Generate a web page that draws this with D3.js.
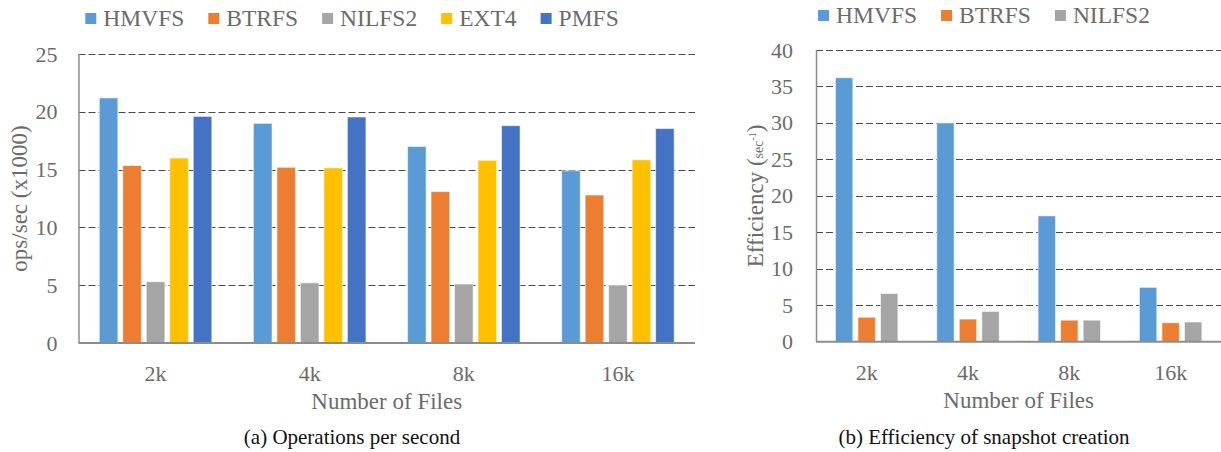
<!DOCTYPE html>
<html>
<head>
<meta charset="utf-8">
<script src="https://cdn.jsdelivr.net/npm/d3@7"></script>
<style>
  html, body { margin: 0; padding: 0; background: #fff; }
  svg { display: block; }
</style>
</head>
<body>
<svg id="fig" width="1221" height="452"></svg>
<script>
// File-count categories shared by both panels
const fileCounts = ["2k", "4k", "8k", "16k"];

// (a) throughput, ops/sec in thousands
const opsSeries = ["HMVFS", "BTRFS", "NILFS2", "EXT4", "PMFS"];
const opsHMVFS  = [21.2, 19.0, 17.0, 14.9];
const opsBTRFS  = [15.35, 15.2, 13.1, 12.8];
const opsNILFS2 = [5.3, 5.2, 5.1, 5.0];
const opsEXT4   = [16.0, 15.15, 15.8, 15.85];
const opsPMFS   = [19.6, 19.55, 18.8, 18.55];
const opsTicks  = [0, 5, 10, 15, 20, 25];

// (b) snapshot creation efficiency, 1/sec
const effSeries = ["HMVFS", "BTRFS", "NILFS2"];
const effHMVFS  = [36.2, 30.0, 17.25, 7.45];
const effBTRFS  = [3.35, 3.1, 2.95, 2.6];
const effNILFS2 = [6.6, 4.15, 2.95, 2.7];
const effTicks  = [0, 5, 10, 15, 20, 25, 30, 35, 40];

const palette = {
  HMVFS: "#5B9BD5", BTRFS: "#ED7D31", NILFS2: "#A5A5A5",
  EXT4: "#FFC000", PMFS: "#4472C4"
};
const SERIF = "Liberation Serif";
const GREY_TEXT = "#6b6b6b";

const svg = d3.select("#fig");

function panel(cfg) {
  const rows = cfg.categories.map((c, i) => {
    const r = { cat: c };
    cfg.series.forEach((s, k) => { r[s] = cfg.values[k][i]; });
    return r;
  });

  const x0 = d3.scaleBand().domain(cfg.categories)
    .range([cfg.left, cfg.right])
    .paddingInner(cfg.groupPad).paddingOuter(cfg.groupPad / 2);
  const x1 = d3.scaleBand().domain(cfg.series)
    .range([0, x0.bandwidth()]).paddingInner(cfg.barPad);
  const y = d3.scaleLinear().domain([0, d3.max(cfg.ticks)])
    .range([cfg.bottom, cfg.top]);

  const g = svg.append("g");

  // dashed horizontal gridlines
  g.append("g").selectAll("line")
    .data(cfg.ticks.filter(t => t > 0))
    .join("line")
    .attr("x1", cfg.left).attr("x2", cfg.right)
    .attr("y1", d => Math.round(y(d)) + 0.5)
    .attr("y2", d => Math.round(y(d)) + 0.5)
    .attr("stroke", "#4a4a4a").attr("stroke-width", 1)
    .attr("stroke-dasharray", "7,3");

  // bars
  g.append("g").selectAll("g")
    .data(rows).join("g")
    .attr("transform", d => `translate(${x0(d.cat)},0)`)
    .selectAll("rect")
    .data(d => cfg.series.map(s => ({ s, v: d[s] })))
    .join("rect")
    .attr("x", d => x1(d.s))
    .attr("width", x1.bandwidth())
    .attr("y", d => y(d.v))
    .attr("height", d => y(0) - y(d.v))
    .attr("fill", d => palette[d.s])
    .attr("stroke", "#ffffff").attr("stroke-opacity", 0.55)
    .attr("stroke-width", 1);

  // axis lines
  g.append("line")
    .attr("x1", cfg.left + 0.5).attr("x2", cfg.left + 0.5)
    .attr("y1", y(d3.max(cfg.ticks))).attr("y2", cfg.bottom)
    .attr("stroke", "#8c8c8c").attr("stroke-width", 1.5);
  g.append("line")
    .attr("x1", cfg.left).attr("x2", cfg.right)
    .attr("y1", cfg.bottom).attr("y2", cfg.bottom)
    .attr("stroke", "#8c8c8c").attr("stroke-width", 2);

  // y tick labels
  const yAxis = d3.axisLeft(y).tickValues(cfg.ticks).tickSize(0).tickPadding(cfg.yTickGap);
  const ya = g.append("g").attr("transform", `translate(${cfg.left},0)`).call(yAxis);
  ya.select(".domain").remove();
  ya.selectAll("text")
    .style("font-family", SERIF).style("font-size", "22px").attr("fill", GREY_TEXT);

  // x tick labels
  const xAxis = d3.axisBottom(x0).tickSize(0).tickPadding(0);
  const xa = g.append("g").attr("transform", `translate(0,${cfg.bottom})`).call(xAxis);
  xa.select(".domain").remove();
  xa.selectAll("text")
    .attr("dy", null).attr("y", 38)
    .style("font-family", SERIF).style("font-size", "22px").attr("fill", GREY_TEXT);

  // x title
  g.append("text")
    .attr("x", (cfg.left + cfg.right) / 2).attr("y", cfg.bottom + 66)
    .attr("text-anchor", "middle")
    .style("font-family", SERIF).style("font-size", "23px").attr("fill", GREY_TEXT)
    .text("Number of Files");

  // y title
  const yt = g.append("text")
    .attr("transform", `translate(${cfg.yTitleX},${(cfg.top + cfg.bottom) / 2}) rotate(-90)`)
    .attr("text-anchor", "middle")
    .style("font-family", SERIF).style("font-size", "23px").attr("fill", GREY_TEXT);
  cfg.yTitle(yt);

  // legend, centred on the caption axis
  const lg = g.append("g").attr("transform", `translate(0,${cfg.legendY})`);
  const items = lg.selectAll("g").data(cfg.series).join("g");
  items.append("rect")
    .attr("y", -13).attr("width", 11).attr("height", 11)
    .attr("fill", d => palette[d]);
  items.append("text")
    .attr("x", 18)
    .style("font-family", SERIF).style("font-size", "23.5px").attr("fill", GREY_TEXT)
    .text(d => d);
  const widths = [];
  items.each(function () {
    widths.push(18 + d3.select(this).select("text").node().getComputedTextLength());
  });
  const total = d3.sum(widths) + cfg.legendGap * (widths.length - 1);
  let cx = cfg.center - total / 2;
  items.attr("transform", (d, i) => {
    const t = `translate(${cx},0)`;
    cx += widths[i] + cfg.legendGap;
    return t;
  });

  // caption
  g.append("text")
    .attr("x", cfg.center).attr("y", 444)
    .attr("text-anchor", "middle")
    .style("font-family", SERIF).style("font-size", "21px").attr("fill", "#111")
    .text(cfg.caption);
}

panel({
  categories: fileCounts,
  series: opsSeries,
  values: [opsHMVFS, opsBTRFS, opsNILFS2, opsEXT4, opsPMFS],
  ticks: opsTicks,
  left: 78.5, right: 695, top: 54, bottom: 343,
  groupPad: 0.27, barPad: 0.21,
  yTickGap: 21,
  yTitleX: 27,
  yTitle: t => t.text("ops/sec (x1000)"),
  legendY: 26, legendGap: 24, center: 352,
  caption: "(a) Operations per second"
});

panel({
  categories: fileCounts,
  series: effSeries,
  values: [effHMVFS, effBTRFS, effNILFS2],
  ticks: effTicks,
  left: 816, right: 1221.3, top: 50, bottom: 341.7,
  groupPad: 0.384, barPad: 0.23,
  yTickGap: 23,
  yTitleX: 763,
  yTitle: t => {
    t.append("tspan").text("Efficiency (");
    t.append("tspan").style("font-size", "14px").text("sec");
    t.append("tspan").style("font-size", "10px").attr("dy", -7).text("-1");
    t.append("tspan").attr("dy", 7).text(")");
  },
  legendY: 23, legendGap: 24, center: 984,
  caption: "(b) Efficiency of snapshot creation"
});
</script>
</body>
</html>
